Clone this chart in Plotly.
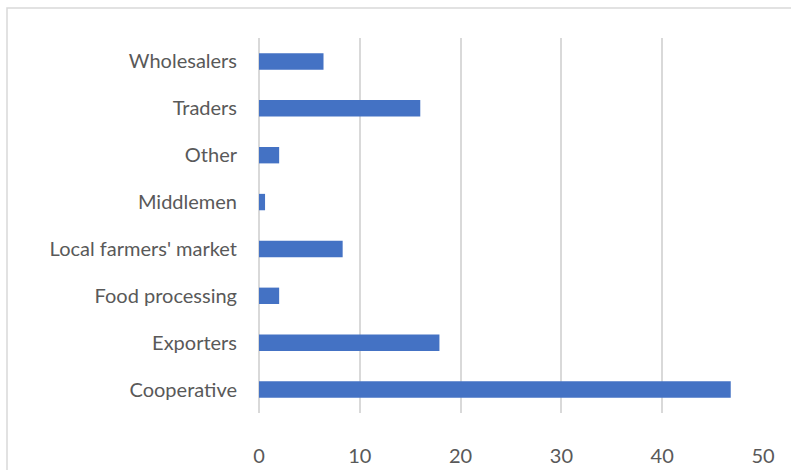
import plotly.graph_objects as go

categories = ["Cooperative", "Exporters", "Food processing", "Local farmers' market",
              "Middlemen", "Other", "Traders", "Wholesalers"]
values = [46.8, 17.9, 2.0, 8.3, 0.6, 2.0, 16.0, 6.4]
x_ticks = [0, 10, 20, 30, 40, 50]

FONT = "Lato"
TEXT = "#595959"
GRID = "#D9D9D9"

fig = go.Figure(
    go.Bar(
        x=values,
        y=categories,
        orientation="h",
        marker=dict(color="#4472C4", line=dict(width=0)),
        hoverinfo="x+y",
    )
)

fig.update_layout(
    width=791,
    height=470,
    margin=dict(l=259, r=28, t=38, b=57),
    paper_bgcolor="white",
    plot_bgcolor="white",
    bargap=0.65,
    showlegend=False,
    font=dict(family=FONT, size=20, color=TEXT),
    shapes=[
        dict(
            type="rect", xref="paper", yref="paper",
            x0=-252 / 504, x1=1.2, y0=-0.3, y1=1 + 30 / 375,
            line=dict(color=GRID, width=1.5), fillcolor="rgba(0,0,0,0)",
            layer="below",
        )
    ],
)

fig.update_xaxes(
    range=[0, 50],
    tickvals=x_ticks,
    showgrid=True,
    gridcolor=GRID,
    gridwidth=1.5,
    zeroline=True,
    zerolinecolor=GRID,
    zerolinewidth=1.5,
    showline=False,
    ticks="",
    automargin=False,
    ticklabelstandoff=29,
    tickfont=dict(family=FONT, size=20, color=TEXT),
)

fig.update_yaxes(
    categoryorder="array",
    categoryarray=categories,
    showgrid=False,
    zeroline=False,
    showline=False,
    ticks="",
    automargin=False,
    ticklabelstandoff=21,
    tickfont=dict(family=FONT, size=20, color=TEXT),
)

fig.write_html("out.html")
